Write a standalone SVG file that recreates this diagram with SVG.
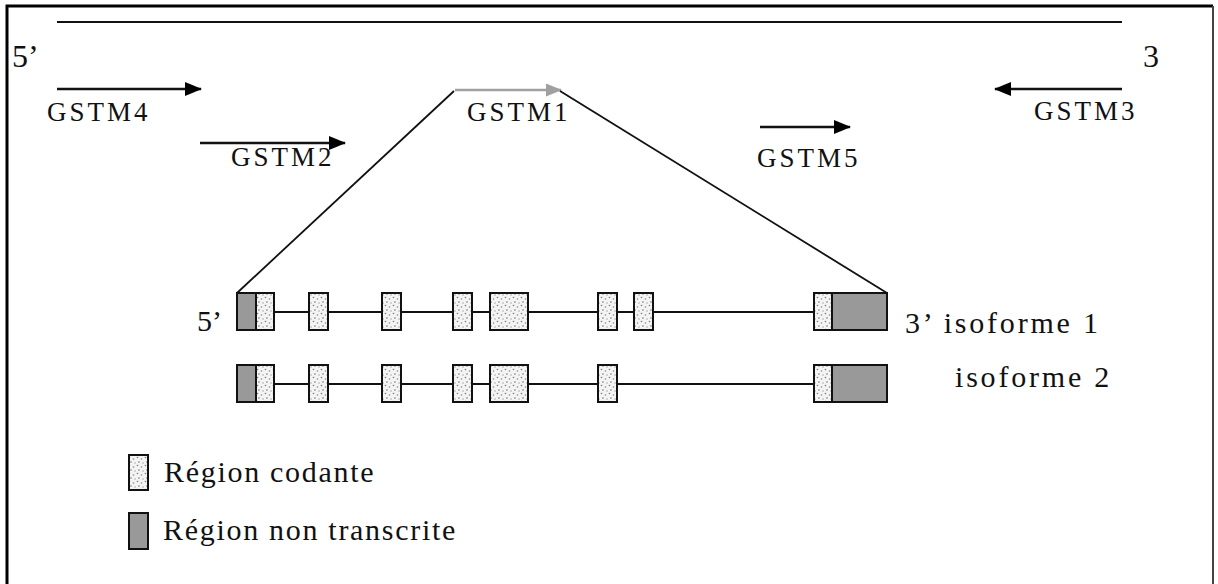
<svg xmlns="http://www.w3.org/2000/svg" width="1218" height="584" viewBox="0 0 1218 584">
  <defs>
    <pattern id="stipple" width="8" height="8" patternUnits="userSpaceOnUse">
      <rect width="8" height="8" fill="#f4f4f4"/>
      <circle cx="1.5" cy="1.5" r="0.8" fill="#777"/>
      <circle cx="5.5" cy="3" r="0.8" fill="#888"/>
      <circle cx="3" cy="6" r="0.8" fill="#777"/>
      <circle cx="7" cy="7" r="0.7" fill="#999"/>
    </pattern>
    <marker id="head" markerWidth="17" markerHeight="14" refX="16" refY="7" orient="auto" markerUnits="userSpaceOnUse" viewBox="0 0 17 14">
      <path d="M0,0 L17,7 L0,14 z" fill="#000"/>
    </marker>
    <marker id="head-grey" markerWidth="16" markerHeight="13" refX="15" refY="6.5" orient="auto" markerUnits="userSpaceOnUse" viewBox="0 0 16 13">
      <path d="M0,0 L16,6.5 L0,13 z" fill="#a0a0a0"/>
    </marker>
  </defs>
  <style>
    .frame { fill: none; stroke: #000; stroke-width: 3; }
    .frame-r { fill: none; stroke: #444; stroke-width: 2; }
    .line { stroke: #111; stroke-width: 2.2; fill: none; }
    .thin { stroke: #111; stroke-width: 1.8; fill: none; }
    .arrow { stroke: #111; stroke-width: 2.5; fill: none; marker-end: url(#head); }
    .arrow-grey { stroke: #a0a0a0; stroke-width: 2.5; fill: none; marker-end: url(#head-grey); }
    .exon { fill: url(#stipple); stroke: #111; stroke-width: 2; }
    .utr { fill: #999; stroke: #111; stroke-width: 2; }
    .lbl { font-family: "Liberation Serif", "Times New Roman", serif; fill: #111; }
    .gene { font-size: 27px; letter-spacing: 3px; }
    .end { font-size: 32px; }
    .iso { font-size: 30px; letter-spacing: 2.8px; }
    .leg { font-size: 30px; letter-spacing: 1.7px; }
  </style>

  <rect x="0" y="0" width="1218" height="584" fill="#fff"/>
  <path class="frame" d="M7,590 V6 H1213"/>
  <path class="frame-r" d="M1213,6 V590"/>

  <!-- chromosome region with the GSTM genes -->
  <g id="chromosome">
    <line class="line" x1="57" y1="22" x2="1122" y2="22"/>
    <text class="lbl end" x="12" y="67">5’</text>
    <text class="lbl end" x="1143" y="67">3</text>
  </g>

  <g id="connectors">
    <line class="arrow" x1="57" y1="89" x2="201" y2="89"/>
    <line class="arrow" x1="200" y1="143" x2="345" y2="143"/>
    <line class="arrow-grey" x1="455" y1="90" x2="561" y2="90"/>
    <line class="arrow" x1="760" y1="127" x2="850" y2="127"/>
    <line class="arrow" x1="1122" y1="89" x2="995" y2="89"/>
    <!-- zoom lines from GSTM1 to the exon map -->
    <line class="thin" x1="454" y1="91" x2="237" y2="293"/>
    <line class="thin" x1="560" y1="91" x2="887" y2="293"/>
  </g>

  <g id="gstm4"><text class="lbl gene" x="47" y="121">GSTM4</text></g>
  <g id="gstm2"><text class="lbl gene" x="231" y="166">GSTM2</text></g>
  <g id="gstm1"><text class="lbl gene" x="467" y="121">GSTM1</text></g>
  <g id="gstm5"><text class="lbl gene" x="757" y="167">GSTM5</text></g>
  <g id="gstm3"><text class="lbl gene" x="1034" y="120">GSTM3</text></g>

  <!-- isoform 1 -->
  <g id="isoforme1">
    <line class="thin" x1="274" y1="312" x2="814" y2="312"/>
    <rect class="utr" x="237" y="293" width="19" height="37"/>
    <rect class="exon" x="256" y="293" width="18" height="37"/>
    <rect class="exon" x="309" y="293" width="19" height="37"/>
    <rect class="exon" x="382" y="293" width="19" height="37"/>
    <rect class="exon" x="453" y="293" width="19" height="37"/>
    <rect class="exon" x="490" y="293" width="38" height="37"/>
    <rect class="exon" x="598" y="293" width="19" height="37"/>
    <rect class="exon" x="634" y="293" width="19" height="37"/>
    <rect class="exon" x="814" y="293" width="18" height="37"/>
    <rect class="utr" x="832" y="293" width="55" height="37"/>
    <text class="lbl end" x="197" y="331" style="font-size:30px">5’</text>
    <text class="lbl iso" x="905" y="333">3’ isoforme 1</text>
  </g>

  <!-- isoform 2 -->
  <g id="isoforme2">
    <line class="thin" x1="274" y1="384" x2="814" y2="384"/>
    <rect class="utr" x="237" y="365" width="19" height="37"/>
    <rect class="exon" x="256" y="365" width="18" height="37"/>
    <rect class="exon" x="309" y="365" width="19" height="37"/>
    <rect class="exon" x="382" y="365" width="19" height="37"/>
    <rect class="exon" x="453" y="365" width="19" height="37"/>
    <rect class="exon" x="490" y="365" width="38" height="37"/>
    <rect class="exon" x="598" y="365" width="19" height="37"/>
    <rect class="exon" x="814" y="365" width="18" height="37"/>
    <rect class="utr" x="832" y="365" width="55" height="37"/>
    <text class="lbl iso" x="955" y="387">isoforme 2</text>
  </g>

  <!-- legend -->
  <g id="legend-codante">
    <rect class="exon" x="129" y="455" width="19" height="35"/>
    <text class="lbl leg" x="164" y="482">Région codante</text>
  </g>
  <g id="legend-non-transcrite">
    <rect class="utr" x="129" y="513" width="19" height="36"/>
    <text class="lbl leg" x="163" y="540">Région non transcrite</text>
  </g>
</svg>
